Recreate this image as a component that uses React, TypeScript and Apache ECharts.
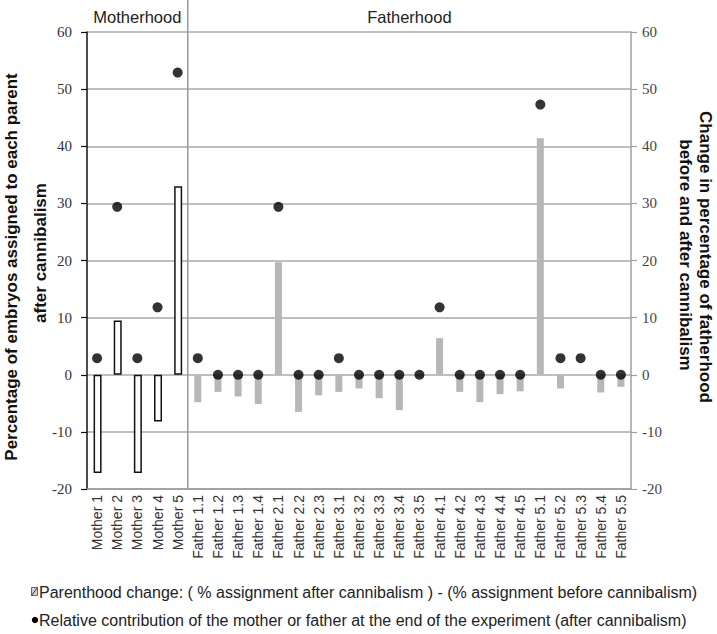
import React, { useEffect, useRef } from "react";
import * as echarts from "echarts";

const categories = [
  "Mother 1", "Mother 2", "Mother 3", "Mother 4", "Mother 5",
  "Father 1.1", "Father 1.2", "Father 1.3", "Father 1.4",
  "Father 2.1", "Father 2.2", "Father 2.3",
  "Father 3.1", "Father 3.2", "Father 3.3", "Father 3.4", "Father 3.5",
  "Father 4.1", "Father 4.2", "Father 4.3", "Father 4.4", "Father 4.5",
  "Father 5.1", "Father 5.2", "Father 5.3", "Father 5.4", "Father 5.5",
];

const motherChange = [-17.2, 9.5, -17.2, -8.2, 33.0];
const fatherChange = [
  -4.8, -3.0, -3.8, -5.1,
  19.7, -6.5, -3.6,
  -3.0, -2.4, -4.1, -6.2, -0.4,
  6.4, -3.0, -4.8, -3.4, -2.9,
  41.4, -2.4, 0, -3.1, -2.1,
];
const contribution = [
  2.9, 29.4, 2.9, 11.8, 52.9,
  2.9, 0, 0, 0,
  29.4, 0, 0,
  2.9, 0, 0, 0, 0,
  11.8, 0, 0, 0, 0,
  47.3, 2.9, 2.9, 0, 0,
];

const headerLabels = ["Motherhood", "Fatherhood"];
const leftTitleLines = ["Percentage of embryos assigned to each parent", "after cannibalism"];
const rightTitleLines = ["Change in percentage of fatherhood", "before and after cannibalism"];
const legendBar = "Parenthood change: ( % assignment after cannibalism ) - (% assignment before cannibalism)";
const legendDot = "Relative contribution of the mother or father at the end of the experiment (after cannibalism)";

const W = 717;
const H = 634;
const GRID_LEFT = 87;
const GRID_RIGHT = 86;
const GRID_TOP = 32;
const GRID_BOTTOM = 145;

export default function App() {
  const ref = useRef<HTMLDivElement>(null);
  useEffect(() => {
    if (!ref.current) return;
    const chart = echarts.init(ref.current, undefined, { renderer: "svg" });
    const nM = motherChange.length;
    const plotW = W - GRID_LEFT - GRID_RIGHT;
    const catW = plotW / categories.length;
    const dividerX = GRID_LEFT + nM * catW;
    const bottomY = H - GRID_BOTTOM;
    const sans = "Liberation Sans, Arial, sans-serif";
    const serif = "Liberation Serif, Times New Roman, serif";

    const motherData = categories.map((_, i) => (i < nM ? motherChange[i] : "-"));
    const fatherData = categories.map((_, i) => (i >= nM ? fatherChange[i - nM] : "-"));

    const titleText = (text: string, x: number, y: number, rot: number) => ({
      type: "text",
      x,
      y,
      rotation: rot,
      style: {
        text,
        font: "bold 17px " + sans,
        fill: "#111",
        textAlign: "center",
        textVerticalAlign: "middle",
      },
    });

    chart.setOption({
      animation: false,
      backgroundColor: "#ffffff",
      grid: {
        left: GRID_LEFT,
        right: GRID_RIGHT,
        top: GRID_TOP,
        bottom: GRID_BOTTOM,
        containLabel: false,
      },
      xAxis: {
        type: "category",
        data: categories,
        boundaryGap: true,
        axisLine: { show: true, onZero: false, lineStyle: { color: "#9a9a9a", width: 1.5 } },
        axisTick: { show: false },
        axisLabel: {
          rotate: 90,
          interval: 0,
          fontSize: 14,
          fontFamily: sans,
          color: "#333",
          margin: 6,
        },
        splitLine: { show: false },
      },
      yAxis: [
        {
          type: "value",
          min: -20,
          max: 60,
          interval: 10,
          position: "left",
          axisLine: { show: true, lineStyle: { color: "#111", width: 1.5 } },
          axisTick: { show: true, length: 6, lineStyle: { color: "#111", width: 1.2 } },
          axisLabel: { fontSize: 15, fontFamily: serif, color: "#333", margin: 15 },
          splitLine: { show: true, lineStyle: { color: "#aaaaaa", width: 1.5 } },
        },
        {
          type: "value",
          min: -20,
          max: 60,
          interval: 10,
          position: "right",
          axisLine: { show: true, lineStyle: { color: "#a0a0a0", width: 1.5 } },
          axisTick: { show: true, length: 6, lineStyle: { color: "#a0a0a0", width: 1.2 } },
          axisLabel: { fontSize: 15, fontFamily: serif, color: "#444", margin: 11 },
          splitLine: { show: false },
        },
      ],
      series: [
        {
          type: "bar",
          name: "mother",
          data: motherData,
          barWidth: 8,
          barGap: "-100%",
          itemStyle: { color: "#ffffff", borderColor: "#111", borderWidth: 1.5 },
          z: 3,
        },
        {
          type: "bar",
          name: "father",
          data: fatherData,
          barWidth: 7,
          barGap: "-100%",
          itemStyle: { color: "#b7b7b7" },
          z: 3,
        },
        {
          type: "scatter",
          name: "contribution",
          data: contribution,
          symbol: "circle",
          symbolSize: 10,
          itemStyle: { color: "#000" },
          z: 5,
        },
      ],
      graphic: [
        {
          type: "line",
          shape: { x1: dividerX, y1: 0, x2: dividerX, y2: bottomY },
          style: { stroke: "#9a9a9a", lineWidth: 1.5 },
          z: 10,
        },
        {
          type: "text",
          x: (GRID_LEFT + dividerX) / 2,
          y: 17,
          style: {
            text: headerLabels[0],
            font: "16.5px " + sans,
            fill: "#222",
            textAlign: "center",
            textVerticalAlign: "middle",
          },
        },
        {
          type: "text",
          x: (dividerX + W - GRID_RIGHT) / 2,
          y: 17,
          style: {
            text: headerLabels[1],
            font: "16.5px " + sans,
            fill: "#222",
            textAlign: "center",
            textVerticalAlign: "middle",
          },
        },
        titleText(leftTitleLines[0], 11, 267, Math.PI / 2),
        titleText(leftTitleLines[1], 40, 253, Math.PI / 2),
        titleText(rightTitleLines[0], 705, 257, -Math.PI / 2),
        titleText(rightTitleLines[1], 685, 255, -Math.PI / 2),
        {
          type: "rect",
          shape: { x: 31.5, y: 587.5, width: 6, height: 8 },
          style: { fill: "#d0d0d0", stroke: "#666", lineWidth: 1 },
        },
        {
          type: "line",
          shape: { x1: 31.5, y1: 595.5, x2: 37.5, y2: 587.5 },
          style: { stroke: "#333", lineWidth: 1 },
        },
        {
          type: "text",
          x: 39,
          y: 592,
          style: {
            text: legendBar,
            font: "16px " + sans,
            fill: "#222",
            textAlign: "left",
            textVerticalAlign: "middle",
          },
        },
        {
          type: "circle",
          shape: { cx: 35, cy: 620, r: 3.2 },
          style: { fill: "#000" },
        },
        {
          type: "text",
          x: 39,
          y: 620,
          style: {
            text: legendDot,
            font: "16px " + sans,
            fill: "#222",
            textAlign: "left",
            textVerticalAlign: "middle",
          },
        },
      ],
    });
    return () => chart.dispose();
  }, []);
  return (
    <div
      ref={ref}
      style={{ position: "absolute", left: 0, top: 0, width: W, height: H, background: "#fff" }}
    />
  );
}
